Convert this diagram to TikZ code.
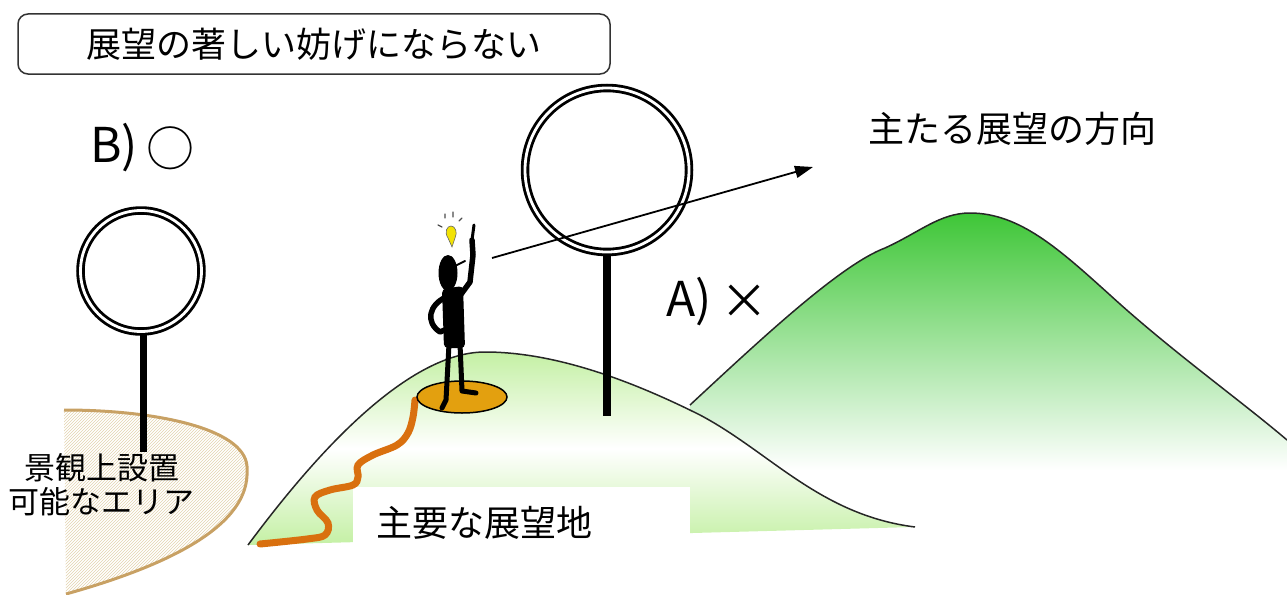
\documentclass[tikz,border=0pt]{standalone}
\usepackage{fontspec}
\setmainfont{Noto Sans CJK JP}
\usetikzlibrary{arrows.meta,patterns}
\definecolor{hillgreen}{HTML}{C4F0A4}
\definecolor{peakgreen}{HTML}{3EC637}
\definecolor{sandline}{HTML}{C8A164}
\definecolor{sandhatch}{HTML}{E2D3AE}
\definecolor{trail}{HTML}{D9700F}
\definecolor{platform}{HTML}{E3A00F}
\definecolor{bulbyellow}{HTML}{F2E205}
\tikzset{
  outline/.style={draw=black!85, line width=1.5pt},
  ring/.style={line width=8.5pt},
  ringgap/.style={white, line width=2.8pt},
  limb/.style={line width=5.5pt, line cap=round, line join=round},
  jp/.style={inner sep=0pt, font=\fontsize{#1}{#1}\selectfont},
}
\begin{document}
\begin{tikzpicture}[x=1pt,y=-1pt]
\useasboundingbox (0,0) rectangle (1287,594);

% area where a sign may stand
\path[pattern=north east lines, pattern color=sandhatch]
  (64,410) .. controls (160,410) and (250,430) .. (247,470)
  .. controls (250,525) and (170,565) .. (66,594) -- cycle;
\draw[sandline, line width=3pt]
  (64,410) .. controls (160,410) and (250,430) .. (247,470)
  .. controls (250,525) and (170,565) .. (66,594);
\node[inner sep=0pt, align=center, font=\fontsize{31}{34}\selectfont] (areaLabel) at (102,485) {景観上設置\\可能なエリア};

% small sign on the left
\coordinate (smallSign) at (141,271);
\coordinate (smallFoot) at (143,452);
\draw[line width=7pt] (143,331) -- (smallFoot);
\draw[ring] (smallSign) circle[radius=60.5];
\draw[ringgap] (smallSign) circle[radius=60.5];

% far mountain
\shade[top color=peakgreen, bottom color=white]
  (690,405) .. controls (760,340) and (840,265) .. (885,248)
  .. controls (920,232) and (940,213) .. (970,213)
  .. controls (1020,213) and (1060,250) .. (1110,295)
  .. controls (1170,350) and (1240,400) .. (1287,440)
  -- (1287,470) -- (690,470) -- cycle;
\draw[outline]
  (690,405) .. controls (760,340) and (840,265) .. (885,248)
  .. controls (920,232) and (940,213) .. (970,213)
  .. controls (1020,213) and (1060,250) .. (1110,295)
  .. controls (1170,350) and (1240,400) .. (1287,440);

% main viewpoint hill
\shade[top color=hillgreen, bottom color=hillgreen, middle color=white]
  (248,545) .. controls (300,475) and (400,352) .. (485,352)
  .. controls (560,352) and (640,385) .. (700,415)
  .. controls (770,452) and (820,515) .. (915,527) -- cycle;
\draw[outline]
  (248,545) .. controls (300,475) and (400,352) .. (485,352)
  .. controls (560,352) and (640,385) .. (700,415)
  .. controls (770,452) and (820,515) .. (915,527);

% label of the hill
\node[fill=white, minimum width=337pt, minimum height=62pt, anchor=north west, inner sep=0pt] (labelBox) at (353,487) {};
\node[jp=36, anchor=west] (viewpoint) at (376,523) {主要な展望地};

% winding trail to the top
\draw[trail, line width=7pt, line cap=round]
  plot[smooth, tension=0.6] coordinates {(415,400) (413,417) (408,433) (397,445) (373,455) (358,465) (358,477) (353,485) (330,490) (315,497) (317,510) (328,523) (325,535) (307,539) (260,544)};

% observation platform
\filldraw[fill=platform, draw=black, line width=1.5pt] (462,397) ellipse[x radius=45, y radius=16];

% person on the platform
\fill (448,273) ellipse[x radius=9.5, y radius=18];
\draw[line width=2pt, line cap=round] (455,266) -- (465,261);
\fill[rounded corners=4pt] (442,289) -- (463,286) -- (465,348) -- (444,348) -- cycle;
\draw[limb] (459,297) -- (470,282) -- (473,255) -- (472,240);
\draw[line width=3pt, line cap=round] (472,240) -- (474,225);
\draw[limb] (446,297) .. controls (429,305) and (425,322) .. (440,332) -- (447,329);
\draw[line width=5pt, line cap=round, line join=round] (449,344) -- (446,400) -- (442,408);
\draw[line width=5pt, line cap=round, line join=round] (460,344) -- (462,391) -- (476,393);

% idea bulb
\filldraw[fill=bulbyellow, draw=black!60, line width=0.6pt]
  (452,247) -- (448,238) .. controls (444,232) and (447,226) .. (451,226)
  .. controls (455,226) and (458,232) .. (455,238) -- cycle;
\draw[black!70, line width=1.3pt, line cap=round]
  (445,214) -- (445,218) (453,212) -- (453,217) (462,218) -- (459,221) (438,225) -- (442,227);

% large sign on the hill
\coordinate (bigSign) at (607,170);
\coordinate (bigFoot) at (607,416);
\draw[line width=8.5pt] (607,252) -- (bigFoot);
\draw[ring] (bigSign) circle[radius=82];
\draw[ringgap] (bigSign) circle[radius=82];

% line of sight
\coordinate (gazeStart) at (492,258);
\coordinate (gazeEnd) at (813,167);
\draw[line width=1.8pt, -{Triangle[length=18pt,width=12pt]}] (gazeStart) -- (gazeEnd);

% captions
\draw[draw=black!80, line width=1.5pt, rounded corners=10pt] (18,14) rectangle (610,74);
\node[jp=35] (title) at (314,44) {展望の著しい妨げにならない};
\node[jp=36] (direction) at (1012,129) {主たる展望の方向};
\node[jp=48] (labelB) at (114,148) {B)};
\node[jp=48] (circleMark) at (170,148) {○};
\node[jp=48] (labelA) at (689,302) {A)};
\node[jp=48] (crossMark) at (744,302) {×};
\end{tikzpicture}
\end{document}
